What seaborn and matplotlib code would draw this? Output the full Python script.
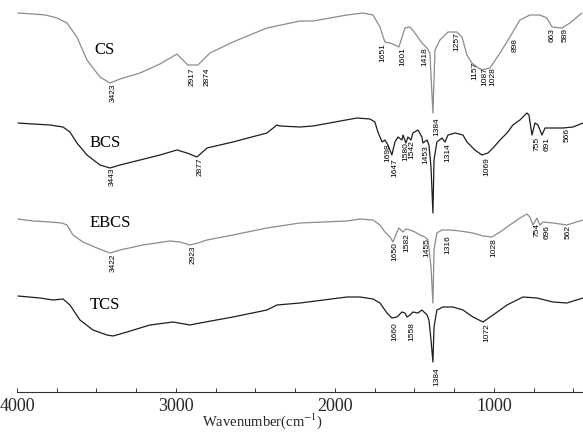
import matplotlib
matplotlib.use("Agg")
import matplotlib.pyplot as plt
from matplotlib.ticker import MultipleLocator, FixedLocator
import seaborn as sns
import numpy as np

# ---------------- data (wavenumber in cm^-1, relative signal offset, axis inverted) -------------
cs_wn = [3994, 3900, 3820, 3748, 3711, 3686, 3623, 3560, 3478, 3415, 3352, 3226, 3101, 2994, 2925,
         2862, 2786, 2642, 2428, 2220, 2138, 1925, 1824, 1761, 1717, 1686, 1654, 1623, 1598, 1560,
         1528, 1497, 1453, 1421, 1403, 1384, 1371, 1340, 1289, 1233, 1201, 1170, 1139, 1107, 1076,
         1025, 962, 900, 837, 774, 711, 667, 635, 573, 522, 447]
cs_y = [13, 14, 15, 18, 21, 23, 37, 60, 77, 83, 79, 73, 64, 54, 65,
        65, 53, 42, 28, 21, 21, 15, 13, 15, 27, 42, 43, 45, 47, 28,
        27, 33, 43, 48, 53, 113, 50, 40, 32, 32, 37, 55, 63, 67, 70,
        68, 53, 37, 20, 15, 15, 18, 27, 28, 23, 13]

bcs_wn = [3994, 3899, 3792, 3711, 3667, 3623, 3560, 3478, 3415, 3352, 3226, 3101, 2994, 2931, 2868,
          2805, 2642, 2428, 2365, 2346, 2220, 2138, 1862, 1780, 1749, 1730, 1704, 1686, 1667, 1642,
          1623, 1604, 1579, 1572, 1554, 1541, 1522, 1510, 1478, 1453, 1447, 1421, 1409, 1396, 1384,
          1377, 1359, 1327, 1308, 1289, 1245, 1195, 1170, 1151, 1120, 1076, 1038, 1006, 962, 918,
          881, 837, 793, 780, 761, 742, 723, 698, 679, 629, 566, 503, 440]
bcs_y = [123, 124, 125, 127, 132, 143, 155, 165, 168, 165, 160, 155, 150, 153, 157,
         148, 142, 133, 125, 126, 127, 126, 118, 119, 122, 132, 142, 140, 145, 155,
         142, 137, 140, 135, 143, 137, 140, 133, 130, 137, 143, 140, 145, 167, 213,
         160, 142, 138, 142, 135, 133, 135, 142, 145, 150, 155, 153, 148, 140, 133,
         125, 120, 113, 115, 135, 123, 125, 135, 128, 128, 128, 127, 123]

ebcs_wn = [3994, 3899, 3792, 3717, 3686, 3648, 3585, 3497, 3415, 3352, 3208, 3038, 2975, 2912, 2862,
           2805, 2642, 2428, 2220, 1925, 1843, 1761, 1717, 1686, 1654, 1635, 1610, 1598, 1572, 1554,
           1528, 1497, 1465, 1434, 1415, 1396, 1384, 1377, 1359, 1327, 1277, 1214, 1132, 1069, 1013,
           962, 900, 837, 793, 774, 755, 730, 711, 692, 629, 541, 440]
ebcs_y = [219, 221, 222, 223, 225, 235, 242, 248, 253, 250, 245, 241, 242, 245, 243,
          240, 235, 228, 223, 221, 219, 220, 225, 232, 237, 242, 232, 228, 232, 229,
          230, 232, 235, 237, 240, 267, 303, 250, 233, 230, 230, 231, 233, 236, 237,
          232, 225, 218, 214, 217, 225, 218, 225, 222, 223, 225, 220]

tcs_wn = [3994, 3855, 3774, 3711, 3667, 3604, 3522, 3434, 3396, 3308, 3164, 3019, 2912, 2849, 2642,
          2428, 2365, 2220, 1925, 1843, 1761, 1717, 1673, 1642, 1610, 1579, 1560, 1547, 1528, 1510,
          1478, 1453, 1421, 1409, 1396, 1384, 1377, 1359, 1321, 1258, 1195, 1132, 1069, 1006, 918,
          818, 730, 629, 541, 440]
tcs_y = [296, 298, 300, 299, 305, 320, 330, 335, 336, 332, 325, 322, 325, 323, 317,
         310, 305, 303, 297, 297, 299, 303, 313, 318, 317, 312, 313, 317, 315, 312,
         313, 310, 315, 320, 340, 362, 327, 310, 307, 307, 310, 317, 322, 315, 305,
         297, 298, 302, 303, 298]

sample_names = ["CS", "BCS", "EBCS", "TCS"]

# peak labels per spectrum
cs_peaks = [3423, 2917, 2874, 1651, 1601, 1418, 1384, 1257, 1157, 1087, 1028, 898, 663, 589]
bcs_peaks = [3443, 2877, 1698, 1647, 1580, 1542, 1453, 1314, 1069, 755, 691, 566]
ebcs_peaks = [3422, 2923, 1650, 1582, 1455, 1316, 1028, 754, 696, 562]
tcs_peaks = [1660, 1558, 1384, 1072]

x_ticks = [4000, 3000, 2000, 1000]
x_tick_labels = ["4000", "3000", "2000", "1000"]

# ---------------- layout (label placement) ----------------
cs_text_x = [3396, 2899, 2805, 1698, 1572, 1434, 1359, 1233, 1120, 1057, 1006, 868, 635, 554]
cs_text_top = [83, 67, 67, 43, 47, 47, 117, 32, 62, 67, 67, 38, 28, 28]
bcs_text_x = [3403, 2849, 1667, 1623, 1552, 1515, 1428, 1289, 1044, 730, 667, 541]
bcs_text_top = [168, 157, 143, 158, 142, 140, 145, 143, 157, 137, 137, 128]
ebcs_text_x = [3396, 2893, 1623, 1547, 1422, 1289, 1000, 730, 667, 535]
ebcs_text_top = [253, 245, 242, 233, 238, 235, 238, 223, 225, 225]
tcs_text_x = [1623, 1516, 1359, 1044]
tcs_text_top = [322, 322, 367, 323]
name_x = [3447, 3447, 3415, 3447]
name_y = [50, 143, 223, 305]

# ---------------- plotting ----------------
sns.set_style("white")
plt.rcParams["font.family"] = ["Liberation Serif", "DejaVu Serif"]
plt.rcParams["mathtext.fontset"] = "stix"

fig = plt.figure(figsize=(5.83, 4.32), dpi=100)
ax = fig.add_axes([17 / 583, 40 / 432, 566 / 583, 392 / 432])

gray = "#8c8c8c"
dark = "#1e1e1e"
series = [
    (cs_wn, cs_y, gray, cs_peaks, cs_text_x, cs_text_top),
    (bcs_wn, bcs_y, dark, bcs_peaks, bcs_text_x, bcs_text_top),
    (ebcs_wn, ebcs_y, gray, ebcs_peaks, ebcs_text_x, ebcs_text_top),
    (tcs_wn, tcs_y, dark, tcs_peaks, tcs_text_x, tcs_text_top),
]

for i, (wn, yv, col, peaks, tx, tt) in enumerate(series):
    sns.lineplot(x=wn, y=yv, ax=ax, color=col, linewidth=0.9, sort=False, estimator=None)
    for p, x_t, y_t in zip(peaks, tx, tt):
        ax.text(x_t, y_t, str(p), rotation=90, ha="center", va="top",
                fontsize=6, family="Liberation Sans", color="black")
    ax.text(name_x[i], name_y[i], sample_names[i], ha="center", va="center",
            fontsize=12, color="black")

ax.set_xlim(4000, 440)
ax.set_ylim(392, 0)
for s in ["left", "top", "right"]:
    ax.spines[s].set_visible(False)
ax.spines["bottom"].set_color("#333333")
ax.spines["bottom"].set_linewidth(0.8)
ax.set_yticks([])
ax.xaxis.set_major_locator(FixedLocator(x_ticks))
ax.set_xticklabels(x_tick_labels)
ax.xaxis.set_minor_locator(MultipleLocator(250))
ax.tick_params(axis="x", which="both", direction="in", length=3, width=0.7,
               color="#333333", bottom=True)
ax.tick_params(axis="x", which="major", labelsize=13, pad=4)
ax.set_xlabel("Wavenumber(cm$^{-1}$)", fontsize=10.5)
ax.xaxis.set_label_coords(0.433, -0.05)
ax.set_ylabel("")

fig.savefig("out.png", dpi=100)
